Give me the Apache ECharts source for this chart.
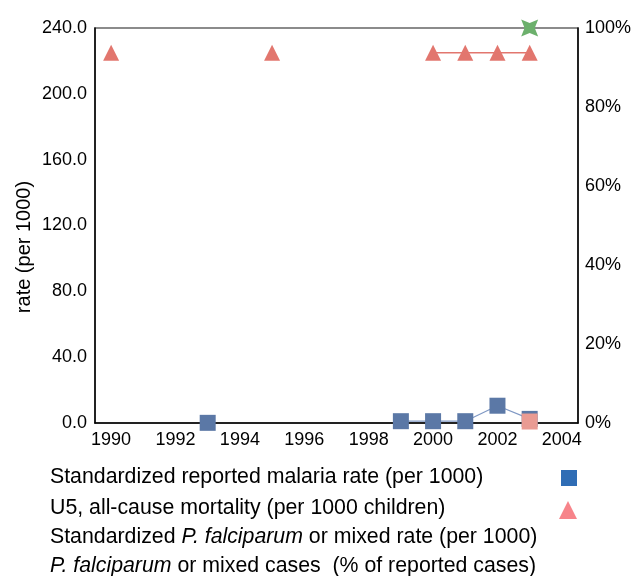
<!DOCTYPE html>
<html>
<head>
<meta charset="utf-8">
<script src="https://cdn.jsdelivr.net/npm/echarts@6/dist/echarts.min.js"></script>
<style>
  html, body { margin: 0; padding: 0; background: #fff; }
  #chart { width: 634px; height: 576px; }
</style>
</head>
<body>
<div id="chart"></div>
<script>
// Years on the horizontal axis (one category per year)
const years = ['1990','1991','1992','1993','1994','1995','1996','1997','1998','1999','2000','2001','2002','2003','2004'];

// Standardized reported malaria rate (per 1000)
const reportedRate = [null, null, null, 0.1, null, null, null, null, null, 1.1, 1.1, 1.1, 10.5, 2.5, null];

// U5, all-cause mortality (per 1000 children)
const u5Mortality = [225, null, null, null, null, 225, null, null, null, null, 225, 225, 225, 225, null];

// Standardized P. falciparum or mixed rate (per 1000)
const falciparumRate = [null, null, null, null, null, null, null, null, null, null, null, null, null, 0.9, null];

// P. falciparum or mixed cases (% of reported cases)
const falciparumPct = [null, null, null, null, null, null, null, null, null, null, null, null, null, 100, null];

// Legend entries
const legendLabels = [
  'Standardized reported malaria rate (per 1000)',
  'U5, all-cause mortality (per 1000 children)',
  'Standardized {i|P. falciparum} or mixed rate (per 1000)',
  '{i|P. falciparum} or mixed cases  (% of reported cases)'
];

const FONT = '"Liberation Sans", Arial, sans-serif';
const star4 = 'path://M0,0 L10,4 L20,0 L16,10 L20,20 L10,16 L0,20 L4,10 Z';

const chart = echarts.init(document.getElementById('chart'), null, { renderer: 'canvas' });

const legendY = [479, 510, 539, 568];
const legendGraphics = legendLabels.map((t, i) => ({
  type: 'text',
  left: 50,
  top: legendY[i] - 12,
  style: {
    text: t,
    fill: '#000',
    font: '21.3px ' + FONT,
    rich: {
      i: { fontStyle: 'italic', fontSize: 21.3, fontFamily: FONT, fill: '#000' }
    }
  }
}));

chart.setOption({
  animation: false,
  backgroundColor: '#fff',
  textStyle: { fontFamily: FONT },
  grid: {
    left: 95, right: 56, top: 28, bottom: 153,
    show: true, borderColor: '#666', borderWidth: 1.5, backgroundColor: 'transparent'
  },
  xAxis: {
    type: 'category',
    data: years,
    boundaryGap: true,
    axisLine: { show: true, lineStyle: { color: '#000', width: 1.5 } },
    axisTick: { show: false },
    axisLabel: { interval: 1, color: '#000', fontSize: 18, margin: 8, fontFamily: FONT },
    splitLine: { show: false }
  },
  yAxis: [
    {
      type: 'value',
      min: 0, max: 240, interval: 40,
      axisLine: { show: true, lineStyle: { color: '#000', width: 1.5 } },
      axisTick: { show: false },
      axisLabel: { color: '#000', fontSize: 18, margin: 8, fontFamily: FONT,
        formatter: v => v.toFixed(1) },
      splitLine: { show: false }
    },
    {
      type: 'value',
      min: 0, max: 100, interval: 20,
      position: 'right',
      axisLine: { show: true, lineStyle: { color: '#000', width: 1.5 } },
      axisTick: { show: false },
      axisLabel: { color: '#000', fontSize: 18, margin: 7, fontFamily: FONT,
        formatter: '{value}%' },
      splitLine: { show: false }
    }
  ],
  series: [
    {
      name: 'Standardized reported malaria rate (per 1000)',
      type: 'line',
      yAxisIndex: 0,
      data: reportedRate,
      symbol: 'rect',
      symbolSize: 16,
      clip: false,
      connectNulls: false,
      itemStyle: { color: '#5b78a6' },
      lineStyle: { color: '#7f98c4', width: 1.2 },
      z: 3
    },
    {
      name: 'U5, all-cause mortality (per 1000 children)',
      type: 'line',
      yAxisIndex: 0,
      data: u5Mortality,
      symbol: 'triangle',
      symbolSize: [16, 16],
      clip: false,
      connectNulls: false,
      itemStyle: { color: '#e2766e' },
      lineStyle: { color: '#e2766e', width: 1.5 },
      z: 3
    },
    {
      name: 'Standardized P. falciparum or mixed rate (per 1000)',
      type: 'line',
      yAxisIndex: 0,
      data: falciparumRate,
      symbol: 'rect',
      symbolSize: 16,
      clip: false,
      itemStyle: { color: '#e99b93' },
      lineStyle: { color: '#e99b93', width: 1.2 },
      z: 4
    },
    {
      name: 'P. falciparum or mixed cases (% of reported cases)',
      type: 'line',
      yAxisIndex: 1,
      data: falciparumPct,
      symbol: star4,
      symbolSize: 17,
      clip: false,
      itemStyle: { color: '#6cb06c' },
      lineStyle: { color: '#6cb06c', width: 1.2 },
      z: 5
    }
  ],
  graphic: [
    {
      type: 'text',
      x: 24, y: 247,
      rotation: Math.PI / 2,
      style: {
        text: 'rate (per 1000)',
        font: '20px ' + FONT,
        fill: '#000',
        align: 'center',
        verticalAlign: 'middle'
      }
    },
    ...legendGraphics,
    {
      type: 'rect',
      shape: { x: 561, y: 470, width: 16, height: 16 },
      style: { fill: '#2f6db5' }
    },
    {
      type: 'polygon',
      shape: { points: [[568, 501], [559, 519], [577, 519]] },
      style: { fill: '#f7848a' }
    }
  ]
});
</script>
</body>
</html>
